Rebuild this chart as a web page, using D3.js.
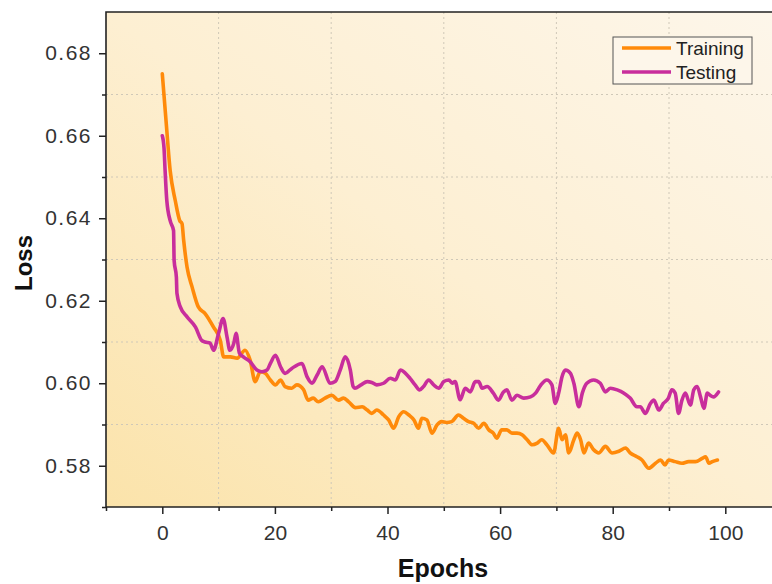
<!DOCTYPE html>
<html>
<head>
<meta charset="utf-8">
<script src="https://cdn.jsdelivr.net/npm/d3@7"></script>
<style>
  body { margin: 0; background: #fff; }
  svg { display: block; font-family: "Liberation Sans", Arial, sans-serif; }
</style>
</head>
<body>
<script>
// epoch, loss pairs
var training = [
  [0, 0.675], [0.7, 0.663], [1.4, 0.6515], [2.3, 0.6443], [3.1, 0.6394], [3.5, 0.6387], [3.8, 0.6346],
  [4.4, 0.6281], [5.3, 0.6233], [6.4, 0.6185], [7.6, 0.6169], [9.1, 0.6136], [10.3, 0.6104], [10.9, 0.6064],
  [12.1, 0.6064], [13.3, 0.6061], [14.7, 0.6080], [15.6, 0.6056], [16.5, 0.6004], [17.4, 0.6028], [18.3, 0.6024],
  [19.2, 0.6008], [20.1, 0.5996], [21.0, 0.6008], [21.8, 0.5992], [23.0, 0.5988], [23.9, 0.5996], [25.1, 0.5984],
  [25.9, 0.5959], [26.8, 0.5964], [27.7, 0.5955], [28.9, 0.5964], [30.1, 0.5971], [31.3, 0.5959], [32.2, 0.5964],
  [33.1, 0.5955], [34.3, 0.5941], [35.5, 0.5943], [36.4, 0.5935], [37.2, 0.5927], [38.1, 0.5935], [39.3, 0.5923],
  [40.2, 0.5911], [41.1, 0.5891], [42.0, 0.5919], [42.9, 0.5931], [43.8, 0.5923], [44.7, 0.5911], [45.5, 0.5891],
  [46.1, 0.5915], [47.0, 0.5911], [47.9, 0.5879], [48.8, 0.5899], [49.6, 0.5907], [50.5, 0.5905], [51.4, 0.5907],
  [52.6, 0.5923], [53.5, 0.5915], [54.4, 0.5907], [55.3, 0.5903], [56.2, 0.5891], [57.1, 0.5903], [58.0, 0.5887],
  [58.8, 0.5879], [59.4, 0.5867], [60.3, 0.5887], [61.2, 0.5887], [62.1, 0.5879], [63.0, 0.5879], [63.9, 0.5875],
  [64.8, 0.5863], [65.7, 0.5851], [66.6, 0.5855], [67.4, 0.5863], [68.3, 0.5851], [69.5, 0.5831], [70.4, 0.5891],
  [71.0, 0.5863], [71.6, 0.5875], [72.2, 0.5831], [73.1, 0.5863], [73.7, 0.5879], [74.3, 0.5863], [74.9, 0.5831],
  [75.7, 0.5855], [76.6, 0.5839], [77.5, 0.5831], [78.7, 0.5847], [79.9, 0.5831], [81.1, 0.5835], [82.3, 0.5843],
  [83.1, 0.5831], [84.3, 0.5822], [85.2, 0.5814], [86.4, 0.5794], [87.6, 0.5806], [88.5, 0.5814], [89.3, 0.5802],
  [89.9, 0.5814], [91.1, 0.5810], [92.3, 0.5806], [93.5, 0.5810], [94.7, 0.5810], [95.9, 0.5818], [96.5, 0.5822],
  [97.1, 0.5806], [97.7, 0.5810], [98.6, 0.5814]
];

var testing = [
  [0, 0.660], [0.3, 0.6571], [0.5, 0.6515], [0.8, 0.6443], [1.4, 0.6394], [2.0, 0.637], [2.1, 0.6298],
  [2.5, 0.6257], [2.6, 0.6218], [3.2, 0.6185], [4.4, 0.6161], [5.9, 0.6136], [7.0, 0.6104], [7.6, 0.6100],
  [8.5, 0.6097], [9.1, 0.6080], [10.0, 0.6121], [10.8, 0.6157], [11.5, 0.6112], [12.0, 0.6080], [12.7, 0.6097],
  [13.1, 0.6121], [13.7, 0.6073], [14.4, 0.6064], [15.6, 0.6052], [16.8, 0.6032], [17.7, 0.6028], [18.6, 0.6032],
  [19.2, 0.6048], [20.1, 0.6068], [21.0, 0.6040], [21.8, 0.6024], [23.0, 0.6036], [24.8, 0.6048], [25.7, 0.6016],
  [26.6, 0.6000], [27.5, 0.6020], [28.4, 0.6040], [29.8, 0.6000], [30.7, 0.6004], [31.6, 0.6032], [32.5, 0.6064],
  [33.4, 0.6032], [33.9, 0.5992], [34.2, 0.5988], [35.3, 0.5996], [36.4, 0.6004], [37.2, 0.6002], [38.1, 0.5996],
  [39.3, 0.6000], [40.5, 0.6012], [41.4, 0.6008], [42.3, 0.6032], [43.2, 0.6024], [44.0, 0.6012], [44.9, 0.5996],
  [45.7, 0.5984], [46.4, 0.5992], [47.3, 0.6008], [48.2, 0.5996], [49.1, 0.5988], [50.0, 0.6004], [50.9, 0.6008],
  [51.5, 0.6000], [52.0, 0.6004], [52.9, 0.5960], [53.8, 0.5988], [54.7, 0.5979], [55.6, 0.6004], [56.2, 0.6004],
  [56.8, 0.5988], [57.7, 0.5992], [58.8, 0.5976], [59.7, 0.5959], [60.6, 0.5979], [61.2, 0.5984], [62.1, 0.5959],
  [63.0, 0.5971], [64.2, 0.5964], [65.4, 0.5967], [66.3, 0.5976], [67.2, 0.5995], [68.3, 0.6008], [69.2, 0.5996],
  [69.8, 0.5951], [70.4, 0.5976], [71.0, 0.6016], [71.6, 0.6032], [72.5, 0.6024], [73.1, 0.6000], [74.0, 0.5943],
  [74.6, 0.5976], [75.4, 0.6000], [76.6, 0.6008], [77.8, 0.6000], [78.7, 0.5979], [79.6, 0.5988], [80.8, 0.5984],
  [82.0, 0.5976], [83.1, 0.5964], [84.3, 0.5943], [84.9, 0.5943], [85.8, 0.5927], [86.7, 0.5951], [87.3, 0.5959],
  [88.2, 0.5935], [89.0, 0.5951], [89.9, 0.5964], [90.5, 0.5984], [91.1, 0.5976], [91.7, 0.5927], [92.3, 0.5959],
  [92.9, 0.5976], [93.8, 0.5947], [94.4, 0.5984], [95.0, 0.5992], [95.6, 0.5967], [96.2, 0.5939], [96.8, 0.5976],
  [97.3, 0.5971], [97.9, 0.5967], [98.8, 0.5979]
];

var xTicks = [0, 20, 40, 60, 80, 100];
var xMinor = [-10, 10, 30, 50, 70, 90, 110];
var yTicks = [0.58, 0.60, 0.62, 0.64, 0.66, 0.68];
var yMinor = [0.57, 0.59, 0.61, 0.63, 0.65, 0.67];
var seriesNames = ['Training', 'Testing'];
var seriesColors = ['#ff8a0a', '#c82e9c'];

var w = 772;
var h = 584;
var plotLeft = 106, plotTop = 12, plotBottom = 507;

var svg = d3.select('body')
  .append('svg')
  .attr('width', w)
  .attr('height', h);

var xScale = d3.scaleLinear()
  .domain([-10, 110])
  .range([plotLeft, plotLeft + 120 * 5.63]);

var yScale = d3.scaleLinear()
  .domain([0.57, 0.69])
  .range([plotBottom, plotTop]);

// background gradient
var grad = svg.append('defs').append('linearGradient')
  .attr('id', 'bg')
  .attr('x1', '0%').attr('y1', '100%')
  .attr('x2', '100%').attr('y2', '0%');
grad.append('stop').attr('offset', '0%').attr('stop-color', '#fbe3aa');
grad.append('stop').attr('offset', '50%').attr('stop-color', '#fdefd2');
grad.append('stop').attr('offset', '100%').attr('stop-color', '#fdf6ea');

svg.append('rect')
  .attr('x', plotLeft)
  .attr('y', plotTop)
  .attr('width', w - plotLeft)
  .attr('height', plotBottom - plotTop)
  .attr('fill', 'url(#bg)');

// dotted grid at the minor positions
svg.append('g')
  .selectAll('line')
  .data(xMinor.slice(1))
  .enter()
  .append('line')
  .attr('x1', d => xScale(d)).attr('x2', d => xScale(d))
  .attr('y1', plotTop).attr('y2', plotBottom)
  .attr('stroke', '#cfc8b8')
  .attr('stroke-width', 1)
  .attr('stroke-dasharray', '2,3');

svg.append('g')
  .selectAll('line')
  .data(yMinor.slice(1))
  .enter()
  .append('line')
  .attr('x1', plotLeft).attr('x2', w)
  .attr('y1', d => yScale(d)).attr('y2', d => yScale(d))
  .attr('stroke', '#cfc8b8')
  .attr('stroke-width', 1)
  .attr('stroke-dasharray', '2,3');

// curves
var line = d3.line()
  .x(d => xScale(d[0]))
  .y(d => yScale(d[1]))
  .curve(d3.curveMonotoneX);

[training, testing].forEach(function (s, i) {
  svg.append('path')
    .datum(s)
    .attr('fill', 'none')
    .attr('stroke', seriesColors[i])
    .attr('stroke-width', 3.6)
    .attr('stroke-linejoin', 'round')
    .attr('stroke-linecap', 'round')
    .attr('d', line);
});

// axes
var xAxis = d3.axisBottom(xScale).tickValues(xTicks).tickSize(7).tickPadding(11).tickFormat(d3.format('d'));
var xAxisMinor = d3.axisBottom(xScale).tickValues(xMinor).tickSize(4).tickFormat('');
var yAxis = d3.axisLeft(yScale).tickValues(yTicks).tickSize(7).tickPadding(7).tickFormat(d3.format('.2f'));
var yAxisMinor = d3.axisLeft(yScale).tickValues(yMinor).tickSize(4).tickFormat('');

function styleAxis(g) {
  g.select('.domain').remove();
  g.selectAll('line').attr('stroke', '#222').attr('stroke-width', 1.5);
  g.selectAll('text').attr('fill', '#333').style('font-size', '21px');
}

svg.append('g')
  .attr('transform', 'translate(0,' + plotBottom + ')')
  .call(xAxisMinor)
  .call(styleAxis);
svg.append('g')
  .attr('transform', 'translate(0,' + plotBottom + ')')
  .call(xAxis)
  .call(styleAxis);
svg.append('g')
  .attr('transform', 'translate(' + plotLeft + ',0)')
  .call(yAxisMinor)
  .call(styleAxis);
svg.append('g')
  .attr('transform', 'translate(' + plotLeft + ',0)')
  .call(yAxis)
  .call(styleAxis)
  .selectAll('text')
  .style('letter-spacing', '1.5px');

// frame lines (left, bottom, top)
svg.append('path')
  .attr('d', 'M' + w + ',' + plotTop + 'H' + plotLeft + 'V' + plotBottom + 'H' + w)
  .attr('fill', 'none')
  .attr('stroke', '#222')
  .attr('stroke-width', 1.6);

// axis titles
svg.append('text')
  .attr('x', 443)
  .attr('y', 577)
  .attr('text-anchor', 'middle')
  .style('font-size', '25px')
  .style('font-weight', 'bold')
  .attr('fill', '#111')
  .text('Epochs');

svg.append('text')
  .attr('transform', 'translate(32,263) rotate(-90)')
  .attr('text-anchor', 'middle')
  .style('font-size', '24px')
  .style('font-weight', 'bold')
  .attr('fill', '#111')
  .text('Loss');

// legend
var legend = svg.append('g').attr('transform', 'translate(613,37)');
legend.append('rect')
  .attr('width', 139)
  .attr('height', 47)
  .attr('fill', '#fdf6ea')
  .attr('stroke', '#555')
  .attr('stroke-width', 1);

seriesNames.forEach(function (name, i) {
  var y = 11 + i * 24;
  legend.append('line')
    .attr('x1', 9).attr('x2', 58)
    .attr('y1', y).attr('y2', y)
    .attr('stroke', seriesColors[i])
    .attr('stroke-width', 3.6);
  legend.append('text')
    .attr('x', 63)
    .attr('y', y + 7)
    .style('font-size', '19px')
    .attr('fill', '#222')
    .text(name);
});
</script>
</body>
</html>
